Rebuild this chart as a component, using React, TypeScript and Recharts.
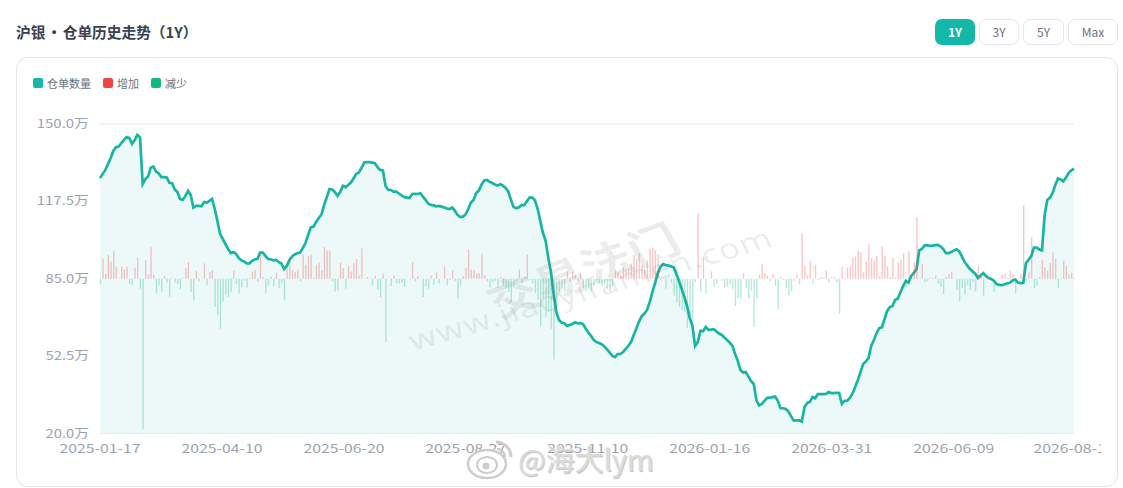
import { ComposedChart, Area, Bar, Cell, XAxis, YAxis, CartesianGrid } from 'recharts'

// warehouse receipts, in 万 (one value per trading day)
const receipts = [
  127.3, 129.0, 130.7, 133.2, 135.7, 138.7, 140.3, 140.5, 142.0, 143.3, 144.5, 144.1, 141.6, 143.3, 145.4, 144.4,
  124.8, 126.9, 127.9, 131.6, 132.1, 130.0, 129.2, 127.7, 127.7, 127.5, 125.3, 125.1, 122.5, 121.4, 118.5, 118.1,
  119.8, 121.9, 120.2, 114.9, 115.6, 115.6, 115.4, 117.2, 117.0, 117.7, 118.5, 114.3, 109.3, 103.8, 101.7, 99.6,
  97.5, 95.8, 96.2, 95.4, 93.7, 92.7, 92.3, 91.4, 91.4, 92.5, 93.1, 93.4, 96.0, 96.0, 94.6, 93.3,
  93.2, 92.7, 92.9, 92.0, 91.4, 89.1, 90.4, 92.9, 94.4, 95.2, 95.8, 96.0, 97.9, 100.0, 103.4, 106.6,
  106.9, 108.8, 110.5, 112.0, 116.0, 119.3, 122.7, 122.5, 121.4, 119.8, 121.4, 124.0, 123.5, 124.4, 125.4, 127.1,
  129.0, 129.6, 131.5, 133.8, 134.0, 134.0, 133.8, 133.5, 131.9, 130.7, 130.5, 124.0, 122.4, 122.3, 121.6, 121.6,
  120.8, 120.0, 119.3, 119.1, 118.9, 120.6, 120.7, 120.6, 120.9, 119.5, 118.1, 116.6, 116.0, 115.8, 115.4, 115.6,
  115.3, 114.9, 114.5, 114.3, 114.9, 113.5, 111.8, 110.9, 111.1, 112.0, 114.3, 117.0, 118.1, 121.0, 122.1, 124.6,
  126.3, 126.5, 125.7, 125.2, 124.6, 124.2, 124.7, 124.1, 123.1, 121.7, 118.1, 115.1, 114.6, 115.0, 116.0, 115.9,
  117.6, 119.1, 119.1, 117.9, 114.3, 109.3, 104.2, 100.9, 93.7, 87.8, 78.6, 71.0, 67.7, 66.5, 66.3, 65.2,
  65.6, 66.0, 66.7, 66.3, 66.4, 66.0, 64.1, 62.4, 61.0, 59.3, 58.4, 58.0, 57.5, 56.6, 55.3, 54.0,
  52.6, 52.1, 53.4, 53.4, 54.2, 55.5, 56.8, 58.4, 61.4, 64.1, 67.0, 69.2, 70.4, 71.9, 75.2, 79.4,
  83.2, 87.2, 89.9, 91.2, 90.8, 90.5, 90.2, 89.7, 87.0, 84.0, 80.7, 77.3, 73.6, 68.5, 65.2, 56.8,
  58.4, 63.1, 62.9, 64.7, 63.5, 63.6, 63.8, 62.9, 62.0, 61.4, 60.3, 59.3, 58.2, 56.8, 53.4, 50.5,
  46.7, 45.6, 45.8, 43.9, 42.0, 40.8, 33.9, 31.8, 32.4, 33.7, 35.0, 35.1, 35.3, 35.5, 33.7, 30.6,
  30.6, 30.3, 29.2, 27.2, 25.4, 25.5, 25.5, 25.0, 31.1, 32.8, 33.3, 35.3, 34.8, 36.5, 36.5, 36.5,
  36.6, 37.4, 37.0, 37.0, 37.1, 37.0, 32.4, 33.7, 33.8, 34.9, 36.8, 39.5, 42.5, 45.8, 49.2, 50.3,
  51.7, 56.8, 59.3, 62.0, 64.3, 64.6, 68.1, 71.5, 73.1, 73.6, 76.1, 76.7, 79.4, 82.0, 84.1, 83.4,
  86.2, 87.4, 89.1, 96.9, 97.5, 99.0, 99.0, 98.8, 98.9, 99.1, 99.2, 98.6, 97.5, 95.8, 95.8, 96.2,
  96.9, 97.4, 96.5, 94.4, 92.0, 90.6, 89.1, 88.1, 87.1, 85.3, 86.4, 87.4, 86.2, 85.3, 84.9, 84.1,
  82.8, 82.4, 82.3, 82.7, 83.1, 83.3, 84.3, 84.7, 83.4, 83.2, 83.3, 91.6, 93.0, 94.6, 98.1, 98.1,
  97.3, 96.9, 111.8, 118.1, 119.1, 121.0, 124.4, 127.1, 126.7, 125.9, 127.5, 129.5, 130.5, 131.3,
]

// daily change, in the hidden axis' units (about 460 each)
const dailyChange = [
  -15, 60, 15, 72, 52, 83, 36, 1, 36, 28, 37, -16, -18, 33, 63, -30, -451, 56, 12, 95, 12, -44, -18, -38,
  8, -12, -54, 2, -12, -15, -32, 2, 33, 49, -40, -65, 24, -8, 1, 46, -18, 20, 26, -85, -108, -150, -68, -48,
  -55, -40, 24, -15, -44, -25, -6, -26, 2, 22, 26, -8, 72, 5, -44, -20, 6, -24, 16, -28, -12, -65, 32, 64,
  27, 20, 27, -8, 72, 42, 68, 72, 4, 42, 48, 26, 95, 84, 84, -8, -38, -36, 48, 32, -30, 38, 22, 48,
  58, 10, 92, 1, 5, -1, -20, 9, -32, -56, 14, -190, 1, -22, 10, -14, -14, -12, -24, 1, -2, 50, -8, 8,
  1, -55, -24, -30, 10, -18, 18, -14, 1, 36, -18, -4, 26, -6, -60, -20, 8, 32, 88, 28, 26, 16, 16, 76,
  10, -8, -26, -10, -6, -28, 5, -20, -28, -40, -70, -26, -6, 28, -12, 5, 72, -4, -14, -42, -62, -142, -60, -115,
  -100, -150, -243, -100, -40, -30, -38, 22, -8, 20, 12, -8, 16, -28, -36, -30, -38, -22, -6, -14, -22, -18, -30, -40,
  -22, 28, 20, 8, 36, 28, 30, 46, 72, 60, 78, 40, 28, 55, 90, 94, 85, 72, -6, 1, -30, 3, -12, -50,
  -72, -85, -95, -100, -148, -110, -145, -10, 196, -38, 66, -44, 1, 22, -24, -16, 2, -6, -26, -24, -16, -30, -82, -58,
  -60, 16, -28, -60, -36, -145, -60, 12, 44, 18, 9, -8, 14, -22, -92, 6, -4, -28, -50, -38, -6, 14, -16, 136,
  38, 10, 54, -14, 42, -4, 5, 3, 24, -12, 4, 6, -12, -105, 36, 1, 33, 36, 62, 66, 84, 80, 20, 52,
  103, 62, 54, 68, 8, 96, 68, 38, 5, 62, 5, 48, 56, 78, -25, 82, 1, 50, 185, 1, 44, -10, -8, 2,
  3, 10, -14, -24, -46, 5, 14, 20, 1, -32, -68, -28, -48, -20, -34, -10, -38, 38, 10, -52, 1, 1, 1, -40,
  1, 1, 12, 16, 3, 24, 12, -44, 1, 16, 221, -8, 20, 125, -28, -20, 5, 58, 34, 24, 48, 80, 60, -28,
  2, 54, 38, 12, 18, 2,
]

const yTicks = [20, 52.5, 85, 117.5, 150]
const tickDates = ['2025-01-17', '2025-04-10', '2025-06-20', '2025-08-27', '2025-11-10', '2026-01-16', '2026-03-31', '2026-06-09', '2026-08-17']
const xTicks = [0, 45.7, 91.4, 137.1, 182.8, 228.5, 274.2, 319.9, 365]

const legendItems = [
  { label: '仓单数量', color: '#14b8a6' },
  { label: '增加', color: '#ef4444' },
  { label: '减少', color: '#10b981' },
]
const ranges = ['1Y', '3Y', '5Y', 'Max']

const chartData = receipts.map((value, i) => ({ i, value, change: dailyChange[i] ?? 0 }))

const CJK = '"Noto Sans CJK SC", "Noto Sans", sans-serif'

function YTick({ x, y, payload }: any) {
  const label = payload.value.toFixed(1) + '万'
  return (
    <text x={89} y={y + 4} textAnchor="end" fontSize={12} fontFamily={CJK} fill="#9ca3af" textLength={label.length * 8.7} lengthAdjust="spacingAndGlyphs">
      {label}
    </text>
  )
}

function XTick({ x, y, payload }: any) {
  const label = tickDates[xTicks.indexOf(payload.value)]
  // the last label runs off the canvas in the original
  return (
    <svg x={x - 45} y={y - 4} width={payload.value === 365 ? 72 : 90} height={20}>
      <text x={45} y={15} textAnchor="middle" fontSize={12} fontFamily={CJK} fill="#9ca3af" textLength={81} lengthAdjust="spacingAndGlyphs">
        {label}
      </text>
    </svg>
  )
}

export default function App() {
  return (
    <div style={{ position: 'absolute', left: 0, top: 0, width: 1123, height: 488, background: '#fff', overflow: 'hidden', fontFamily: CJK }}>
      <div style={{ position: 'absolute', left: 16, top: 22, fontSize: 14.7, lineHeight: '20px', fontWeight: 700, color: '#374151', wordSpacing: -2, whiteSpace: 'nowrap' }}>
        沪银 • 仓单历史走势（1Y）
      </div>

      {ranges.map((r, i) => (
        <div
          key={r}
          style={{
            position: 'absolute',
            left: [935, 979, 1023, 1068][i],
            top: 19,
            width: [40, 40, 41, 50][i],
            height: 26,
            boxSizing: 'border-box',
            borderRadius: 7,
            border: i === 0 ? 'none' : '1px solid #e5e7eb',
            background: i === 0 ? '#14b8a6' : '#fff',
            color: i === 0 ? '#fff' : '#6b7280',
            fontSize: 12,
            fontWeight: i === 0 ? 700 : 400,
            textAlign: 'center',
            lineHeight: i === 0 ? '26px' : '24px',
          }}
        >
          {r}
        </div>
      ))}

      <div style={{ position: 'absolute', left: 16, top: 57, width: 1102, height: 430, boxSizing: 'border-box', border: '1px solid #e5e7eb', borderRadius: 12 }} />

      {legendItems.map((item, i) => (
        <div key={item.label} style={{ position: 'absolute', left: [33, 103, 151][i], top: 76, display: 'flex', alignItems: 'center', height: 14 }}>
          <span style={{ width: 10, height: 10, borderRadius: 2, background: item.color, marginRight: 4 }} />
          <span style={{ fontSize: 11, color: '#6b7280' }}>{item.label}</span>
        </div>
      ))}

      <div style={{ position: 'absolute', left: 0, top: 0 }}>
        <ComposedChart width={1123} height={488} data={chartData} margin={{ top: 124, right: 49, bottom: 0, left: 40 }}>
          <CartesianGrid horizontal vertical={false} stroke="#e5e7eb" />
          <XAxis
            dataKey="i"
            type="number"
            domain={[0, 365]}
            ticks={xTicks}
            tick={<XTick />}
            tickLine={false}
            axisLine={{ stroke: '#e5e7eb' }}
            interval={0}
            height={54.5}
          />
          <YAxis yAxisId="left" domain={[20, 150]} ticks={yTicks} tick={<YTick />} tickLine={false} axisLine={false} width={60} interval={0} />
          <YAxis yAxisId="change" orientation="right" domain={[-465, 465]} hide />
          <Bar yAxisId="change" dataKey="change" barSize={1.4} isAnimationActive={false}>
            {chartData.map(d => (
              <Cell key={d.i} fill={d.change > 0 ? '#ef4444' : '#10b981'} fillOpacity={0.3} />
            ))}
          </Bar>
          <Area
            yAxisId="left"
            dataKey="value"
            type="linear"
            stroke="#17b5a3"
            strokeWidth={2.7}
            fill="#14b8a6"
            fillOpacity={0.08}
            dot={false}
            activeDot={false}
            isAnimationActive={false}
          />
        </ComposedChart>
      </div>

      {/* site watermark */}
      <div style={{ position: 'absolute', left: 482, top: 238, width: 200, textAlign: 'center', fontSize: 41, fontWeight: 700, lineHeight: '60px', color: 'rgba(110,110,110,0.13)', transform: 'scaleX(1.25) rotate(-25deg)', whiteSpace: 'nowrap' }}>
        交易法门
      </div>
      <div style={{ position: 'absolute', left: 400, top: 270, width: 380, textAlign: 'center', fontSize: 28, lineHeight: '36px', fontFamily: '"Noto Sans", sans-serif', color: 'rgba(110,110,110,0.12)', transform: 'scaleX(1.25) rotate(-20deg)', whiteSpace: 'nowrap', letterSpacing: 1 }}>
        www.jiaoyifamen.com
      </div>

      {/* weibo stamp */}
      <svg style={{ position: 'absolute', left: 465, top: 436 }} width={50} height={46} fill="none">
        <ellipse cx={22} cy={28} rx={19} ry={14} fill="#fff" stroke="#cdcdcd" strokeWidth={2.5} />
        <ellipse cx={22} cy={29} rx={10} ry={8} stroke="#cdcdcd" strokeWidth={2} />
        <circle cx={21} cy={30} r={3.5} fill="#cdcdcd" />
        <path d="M31 6 A15 15 0 0 1 46 21" stroke="#cdcdcd" strokeWidth={3} />
        <path d="M32 13 A8 8 0 0 1 40 21" stroke="#cdcdcd" strokeWidth={2.5} />
      </svg>
      <div style={{ position: 'absolute', left: 518, top: 440, fontSize: 29, lineHeight: '36px', color: '#dadada', textShadow: '0 0 2px #fff, 1px 1px 1px #aaa', whiteSpace: 'nowrap' }}>
        @海大lym
      </div>
    </div>
  )
}
